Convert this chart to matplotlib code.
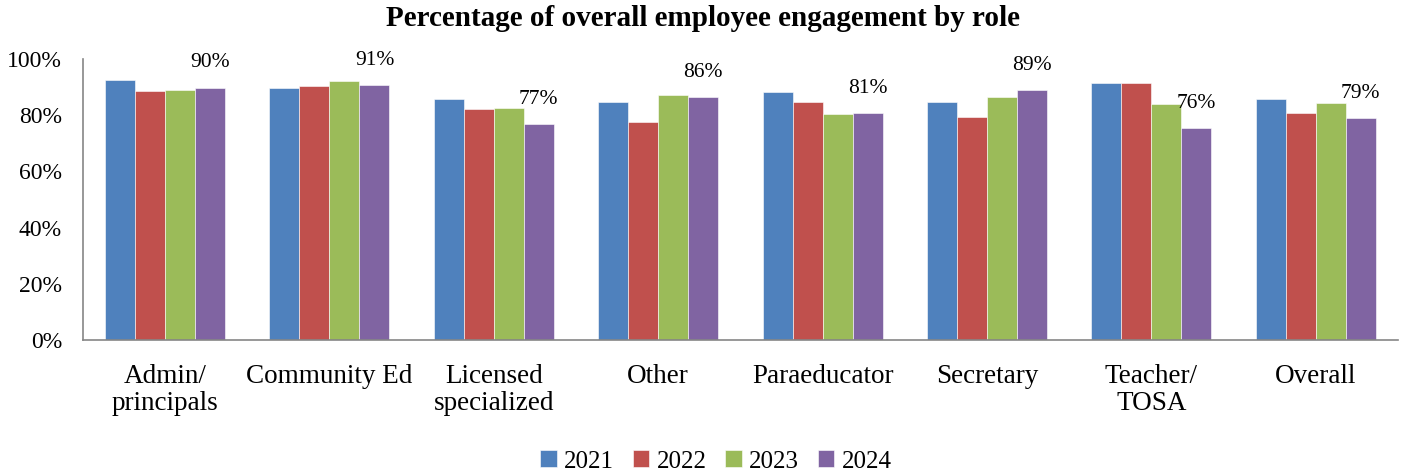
import matplotlib
matplotlib.use("Agg")
import matplotlib.pyplot as plt
import numpy as np
from matplotlib.ticker import FuncFormatter

categories = ["Admin/\nprincipals", "Community Ed", "Licensed\nspecialized", "Other",
              "Paraeducator", "Secretary", "Teacher/\nTOSA", "Overall"]
years = ["2021", "2022", "2023", "2024"]
v2021 = [92.5, 89.8, 85.9, 84.6, 88.4, 84.6, 91.5, 85.6]
v2022 = [88.5, 90.5, 82.1, 77.7, 84.8, 79.4, 91.3, 80.8]
v2023 = [88.8, 92.2, 82.7, 87.1, 80.3, 86.6, 83.9, 84.5]
v2024 = [89.8, 90.7, 76.8, 86.4, 80.8, 89.0, 75.4, 78.9]
labels2024 = ["90%", "91%", "77%", "86%", "81%", "89%", "76%", "79%"]
colors = ["#4F81BD", "#C0504D", "#9BBB59", "#8064A2"]

plt.rcParams['font.family'] = ['Liberation Serif', 'DejaVu Serif']

fig = plt.figure(figsize=(14.05, 4.76), dpi=100)
ax = fig.add_axes([0.059, 0.2857, 0.936, 0.5903])

x = np.arange(len(categories))
w = 0.1825
series = [v2021, v2022, v2023, v2024]
for i, (vals, c, yr) in enumerate(zip(series, colors, years)):
    bars = ax.bar(x + (i - 1.5) * w, vals, w, color=c, label=yr,
                  edgecolor='white', linewidth=0.4)
    if i == 3:
        for b, lab in zip(bars, labels2024):
            ax.annotate(lab, (b.get_x() + b.get_width() / 2, b.get_height()),
                        xytext=(0, 11), textcoords='offset points',
                        ha='center', va='bottom', fontsize=15.5)

ax.set_xlim(-0.5, len(categories) - 0.5)
ax.set_ylim(0, 100)
ax.set_yticks([0, 20, 40, 60, 80, 100])
ax.yaxis.set_major_formatter(FuncFormatter(lambda v, p: f"{v:.0f}%"))
ax.set_xticks(x)
ax.set_xticklabels(categories, fontsize=19.5, linespacing=1.15)
ax.tick_params(axis='y', labelsize=17, length=0, pad=15)
ax.tick_params(axis='x', length=0, pad=17)
for s in ['top', 'right']:
    ax.spines[s].set_visible(False)
for s in ['left', 'bottom']:
    ax.spines[s].set_color('#868686')
    ax.spines[s].set_linewidth(1.2)

fig.suptitle("Percentage of overall employee engagement by role",
             fontsize=21, fontweight='bold', y=0.99)

fig.legend(loc='lower center', bbox_to_anchor=(0.5096, -0.04), ncol=4,
           frameon=False, fontsize=18, handlelength=0.65, handleheight=0.65,
           handletextpad=0.3, columnspacing=0.75)

fig.savefig("out.png", dpi=100)
